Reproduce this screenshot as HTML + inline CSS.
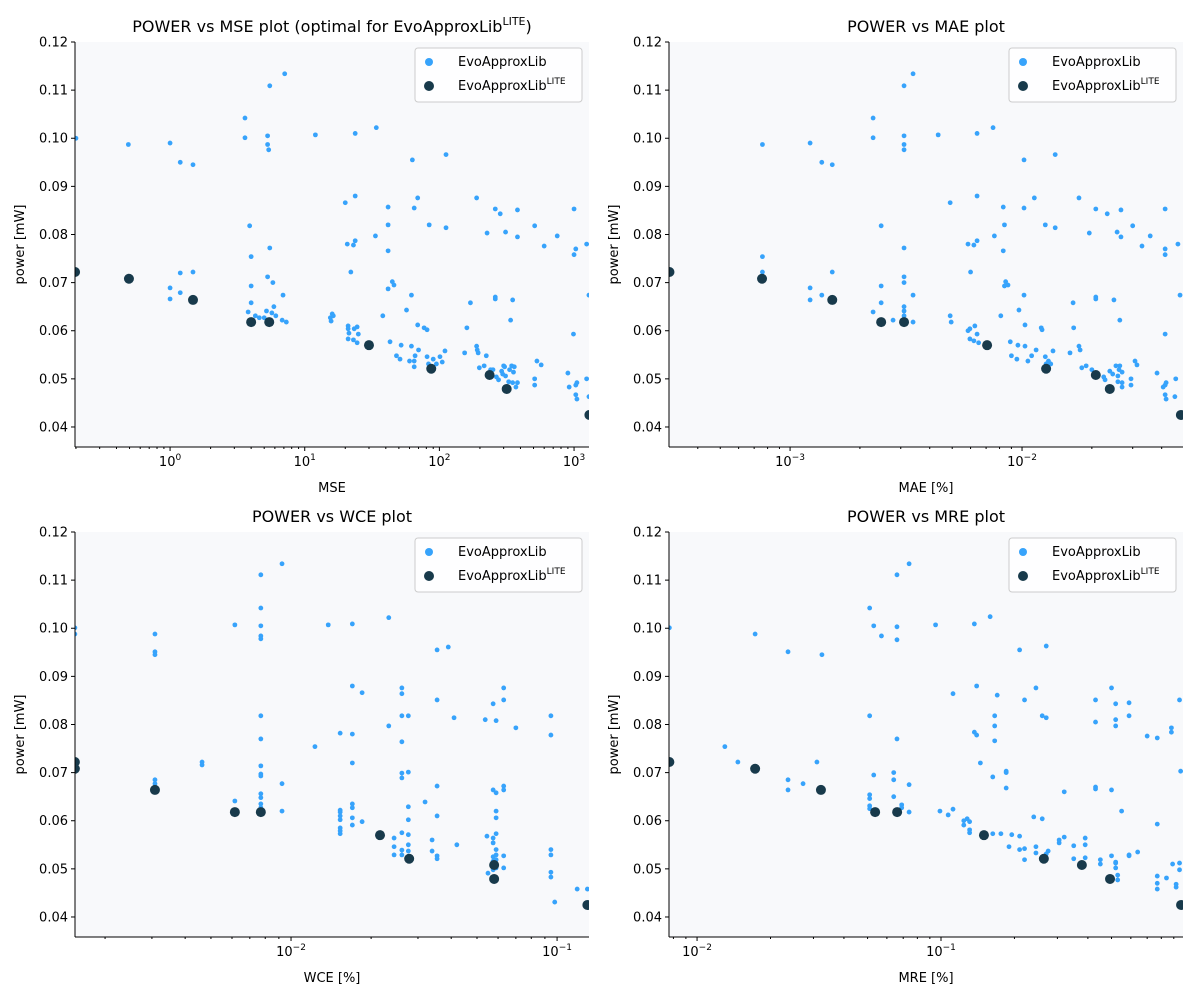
<!DOCTYPE html>
<html><head><meta charset="utf-8"><style>
html,body{margin:0;padding:0;background:#fff}
svg{display:block;font-family:"DejaVu Sans","Liberation Sans",sans-serif}
</style></head><body>
<svg id="fig" width="1200" height="1000" viewBox="0 0 1200 1000" xmlns="http://www.w3.org/2000/svg"></svg>
<script>
// ---------- DATA ----------
const mseLite = [0.197,0.495,1.48,4.0,5.45,30,87,236,316,1300];
const powLite = [0.0722,0.0708,0.0664,0.0618,0.0618,0.0570,0.0521,0.0508,0.0479,0.0425];
const maeLite = [0.000302,0.000757,0.00152,0.00247,0.0031,0.00707,0.0127,0.0208,0.0239,0.0484];
const wceLite = [0.00154,0.00154,0.00308,0.00615,0.0077,0.0216,0.0278,0.058,0.058,0.13];
const wcePowLite = [0.0722,0.0708,0.0664,0.0618,0.0618,0.0570,0.0521,0.0508,0.0479,0.0425];
const mreLite = [0.0077,0.0173,0.0322,0.0537,0.0661,0.15,0.264,0.378,0.493,0.964];

const msePts = [[0.2,0.1],[0.49,0.0987],[1.0,0.099],[1.19,0.095],[1.48,0.0945],[1.0,0.0689],[1.0,0.0666],[1.19,0.0679],[1.19,0.072],[1.48,0.0722],
[3.6,0.1042],[3.6,0.1001],[3.9,0.0818],[4.0,0.0754],[4.0,0.0693],[4.0,0.0658],[3.8,0.0639],[4.3,0.0631],[4.6,0.0627],[5.0,0.0627],
[5.3,0.1005],[5.3,0.0987],[5.4,0.0976],[5.5,0.1109],[5.5,0.0772],[5.3,0.0712],[5.8,0.07],[5.9,0.065],[5.2,0.0641],[5.7,0.0637],[6.1,0.0631],
[7.1,0.1134],[6.9,0.0674],[6.8,0.0622],[7.3,0.0618],[12,0.1007],[15.5,0.0627],[15.7,0.062],[16,0.0635],[16.3,0.0631],
[20,0.0866],[20.7,0.078],[21,0.061],[21,0.0604],[21.3,0.0595],[21,0.0583],[22,0.0722],[23,0.0778],[23.3,0.0604],[23,0.0581],
[23.7,0.101],[23.7,0.088],[23.7,0.0787],[24.5,0.0608],[24.5,0.0575],[25,0.0593],[34,0.1022],[33.5,0.0797],[38,0.0631],
[41.6,0.0857],[41.6,0.082],[41.6,0.0766],[41.6,0.0687],[43,0.0577],[44.7,0.0702],[46,0.0695],[48,0.0548],[51,0.0541],[52,0.057],
[57,0.0643],[60,0.0537],[62,0.0674],[62,0.0568],[63,0.0955],[65,0.0855],[65,0.0537],[65,0.0525],[66,0.0548],[69,0.0876],[70,0.056],
[69,0.0612],[77,0.0606],[81,0.0602],[84,0.082],[81,0.0546],[83,0.0531],[90,0.0541],[95,0.0531],[101,0.0546],[105,0.0535],[110,0.0558],
[112,0.0966],[112,0.0814],[154,0.0554],[160,0.0606],[170,0.0658],[189,0.0876],[189,0.0568],[191,0.056],[194,0.0554],[198,0.0523],
[215,0.0527],[226,0.0803],[223,0.0548],[240,0.0519],[250,0.0519],[260,0.0853],[260,0.067],[260,0.0666],[265,0.0504],[275,0.0498],
[283,0.0843],[290,0.0516],[295,0.051],[300,0.0527],[305,0.0525],[310,0.0805],[310,0.0506],[327,0.0494],[332,0.0519],[338,0.0622],
[344,0.0527],[350,0.0664],[350,0.0492],[355,0.0514],[360,0.0525],[370,0.0483],[380,0.0492],[380,0.0795],[380,0.0851],
[510,0.05],[510,0.0487],[510,0.0818],[530,0.0537],[570,0.0529],[600,0.0776],[750,0.0797],[900,0.0512],[920,0.0483],[990,0.0593],
[1000,0.0853],[1000,0.0758],[1030,0.0467],[1030,0.0487],[1050,0.0492],[1030,0.077],[1050,0.0458],[1240,0.078],[1240,0.05],[1290,0.0674],[1290,0.0463]];

const maePts = [[0.00076,0.0987],[0.00076,0.0754],[0.00076,0.0722],[0.00122,0.099],[0.00122,0.0689],[0.00122,0.0664],[0.00137,0.0674],[0.00137,0.095],
[0.00152,0.0945],[0.00152,0.0722],[0.00228,0.1042],[0.00228,0.1001],[0.00228,0.0639],[0.00247,0.0818],[0.00247,0.0693],[0.00247,0.0658],[0.00278,0.0622],
[0.0031,0.1109],[0.0031,0.1005],[0.0031,0.0987],[0.0031,0.0976],[0.0031,0.0772],[0.0031,0.07],[0.0031,0.0712],[0.0031,0.065],[0.0031,0.0641],[0.0031,0.0631],
[0.00339,0.1134],[0.00339,0.0674],[0.00339,0.0618],[0.00435,0.1007],[0.0049,0.0866],[0.0049,0.0631],[0.00495,0.0618],
[0.00585,0.078],[0.00585,0.06],[0.00596,0.0604],[0.00596,0.0583],[0.006,0.0722],[0.0062,0.0778],[0.0062,0.0579],[0.00626,0.061],
[0.0064,0.101],[0.0064,0.088],[0.0064,0.0787],[0.0064,0.0593],[0.0065,0.0575],[0.0075,0.1022],[0.0076,0.0797],[0.0081,0.0631],
[0.0083,0.0857],[0.0083,0.0766],[0.0084,0.082],[0.0084,0.0693],[0.0085,0.0702],[0.0087,0.0695],[0.0089,0.0577],[0.009,0.0548],
[0.0095,0.0541],[0.0096,0.057],[0.0097,0.0643],[0.0102,0.0955],[0.0102,0.0855],[0.0102,0.0674],[0.0103,0.0568],[0.0103,0.0612],
[0.0106,0.0537],[0.011,0.0548],[0.0113,0.0876],[0.0115,0.056],[0.0121,0.0606],[0.0122,0.0602],[0.0126,0.082],[0.0126,0.0546],[0.0127,0.0531],
[0.013,0.0537],[0.0133,0.0531],[0.0136,0.0558],[0.0139,0.0966],[0.0139,0.0814],[0.0161,0.0554],[0.0166,0.0658],[0.0167,0.0606],
[0.0176,0.0876],[0.0176,0.0568],[0.0178,0.056],[0.0181,0.0523],[0.0189,0.0527],[0.0195,0.0803],[0.02,0.0519],[0.0208,0.0853],[0.0208,0.067],[0.0208,0.0666],
[0.0225,0.0504],[0.0228,0.0498],[0.0233,0.0843],[0.0239,0.0516],[0.0246,0.051],[0.0249,0.0664],[0.0254,0.0527],[0.0257,0.0805],[0.0259,0.0506],[0.0259,0.0494],
[0.0262,0.0519],[0.0264,0.0622],[0.0264,0.0527],[0.0267,0.0851],[0.0267,0.0795],[0.027,0.0483],[0.027,0.0492],[0.027,0.0514],
[0.0295,0.05],[0.0295,0.0487],[0.030,0.0818],[0.0307,0.0537],[0.0313,0.0529],[0.0329,0.0776],[0.0357,0.0797],[0.0382,0.0512],[0.0406,0.0483],
[0.0414,0.0593],[0.0414,0.0853],[0.0414,0.0758],[0.0414,0.077],[0.0414,0.0467],[0.0414,0.0487],[0.0418,0.0492],[0.0418,0.0458],
[0.047,0.078],[0.046,0.05],[0.048,0.0674],[0.0456,0.0463]];

const wcePts = [[0.00154,0.1001],[0.00154,0.0988],[0.00308,0.0988],[0.00308,0.0951],[0.00308,0.0945],[0.00308,0.0685],[0.00308,0.0677],
[0.00463,0.0722],[0.00463,0.0716],[0.00615,0.1007],[0.00615,0.0641],
[0.0077,0.1111],[0.0077,0.1042],[0.0077,0.1005],[0.0077,0.0984],[0.0077,0.0978],[0.0077,0.0818],[0.0077,0.077],[0.0077,0.0714],[0.0077,0.0697],[0.0077,0.0693],[0.0077,0.0656],[0.0077,0.0648],[0.0077,0.0635],[0.0077,0.0627],
[0.00925,0.1134],[0.00925,0.0677],[0.00925,0.062],[0.0123,0.0754],[0.0138,0.1007],
[0.0153,0.0782],[0.0153,0.0622],[0.0153,0.0618],[0.0153,0.061],[0.0153,0.0602],[0.0153,0.0585],[0.0153,0.0579],[0.0153,0.0573],
[0.017,0.1009],[0.017,0.088],[0.017,0.078],[0.017,0.072],[0.017,0.0635],[0.017,0.0627],[0.017,0.0606],[0.017,0.0591],
[0.0185,0.0866],[0.0185,0.0598],[0.0233,0.1022],[0.0233,0.0797],[0.0244,0.0564],[0.0244,0.0546],[0.0244,0.0529],
[0.0261,0.0876],[0.0261,0.0864],[0.0261,0.0818],[0.0261,0.0764],[0.0261,0.0699],[0.0261,0.0689],[0.0261,0.0575],[0.0261,0.0539],[0.0261,0.0529],
[0.0276,0.0818],[0.0276,0.0701],[0.0276,0.0629],[0.0276,0.0602],[0.0276,0.0571],[0.0276,0.055],[0.0276,0.0537],
[0.0319,0.0639],[0.0339,0.056],[0.0339,0.0537],[0.0354,0.0955],[0.0354,0.0851],[0.0354,0.0672],[0.0354,0.061],[0.0354,0.0527],[0.0354,0.0521],
[0.039,0.0961],[0.041,0.0814],[0.042,0.055],[0.0537,0.081],[0.0545,0.0568],[0.055,0.0491],
[0.0575,0.0843],[0.0575,0.0664],[0.0575,0.0564],[0.0575,0.0554],[0.0575,0.0525],[0.0575,0.0516],[0.0575,0.051],[0.0575,0.0498],
[0.059,0.0808],[0.059,0.0658],[0.059,0.062],[0.059,0.0606],[0.059,0.0573],[0.059,0.054],[0.059,0.0529],[0.059,0.0519],[0.059,0.0502],
[0.063,0.0876],[0.063,0.0851],[0.063,0.0672],[0.063,0.0664],[0.063,0.0527],[0.063,0.0502],[0.07,0.0793],
[0.0948,0.0818],[0.0948,0.0778],[0.0948,0.054],[0.0948,0.0529],[0.0948,0.0493],[0.0948,0.0483],[0.098,0.0431],[0.119,0.0458],[0.13,0.0458]];

const mrePts = [[0.0077,0.1001],[0.013,0.0754],[0.0147,0.0722],[0.0173,0.0988],[0.0236,0.0951],[0.0236,0.0685],[0.0236,0.0664],[0.0272,0.0677],[0.031,0.0722],[0.0325,0.0945],
[0.051,0.1042],[0.051,0.0818],[0.051,0.0654],[0.051,0.0646],[0.051,0.0631],[0.051,0.0625],[0.053,0.1005],[0.053,0.0695],[0.057,0.0984],
[0.064,0.07],[0.064,0.0685],[0.064,0.065],[0.066,0.1111],[0.066,0.1003],[0.066,0.0976],[0.066,0.077],[0.069,0.0633],[0.069,0.0627],
[0.074,0.1134],[0.074,0.0618],[0.074,0.0675],[0.095,0.1007],[0.099,0.062],[0.107,0.0612],[0.112,0.0624],[0.112,0.0864],
[0.124,0.0591],[0.124,0.06],[0.128,0.0604],[0.131,0.0598],[0.131,0.0575],[0.131,0.0581],[0.137,0.0784],[0.137,0.1009],[0.14,0.0778],[0.14,0.088],
[0.145,0.072],[0.159,0.1024],[0.163,0.0573],[0.163,0.0691],[0.166,0.0818],[0.166,0.0797],[0.166,0.0766],[0.17,0.0861],[0.176,0.0573],
[0.185,0.07],[0.185,0.0703],[0.185,0.0668],[0.19,0.0546],[0.195,0.0571],[0.21,0.0955],[0.21,0.0568],[0.21,0.054],
[0.22,0.0542],[0.22,0.0519],[0.22,0.0851],[0.24,0.0608],[0.245,0.0546],[0.245,0.0876],[0.245,0.0533],[0.26,0.0818],[0.26,0.0519],[0.26,0.0604],
[0.27,0.0814],[0.27,0.0963],[0.27,0.0531],[0.275,0.0537],[0.305,0.0554],[0.305,0.056],[0.32,0.0566],[0.32,0.066],[0.35,0.0548],[0.35,0.0521],
[0.39,0.0523],[0.39,0.0564],[0.39,0.055],[0.43,0.0805],[0.43,0.0851],[0.43,0.067],[0.43,0.0666],[0.45,0.0519],[0.45,0.051],
[0.5,0.0876],[0.5,0.0527],[0.5,0.0664],[0.52,0.0514],[0.52,0.0502],[0.52,0.0512],[0.52,0.0843],[0.52,0.0797],[0.52,0.081],[0.53,0.0487],[0.53,0.0477],
[0.55,0.062],[0.59,0.0527],[0.59,0.0845],[0.59,0.0818],[0.59,0.0529],[0.64,0.0535],[0.7,0.0776],
[0.77,0.0458],[0.77,0.047],[0.77,0.0485],[0.77,0.0772],[0.77,0.0593],[0.84,0.0481],[0.88,0.0784],[0.88,0.0793],[0.89,0.051],
[0.92,0.0462],[0.92,0.0468],[0.95,0.0512],[0.95,0.0851],[0.95,0.0498],[0.96,0.0703]];

const yTicks = [0.04,0.05,0.06,0.07,0.08,0.09,0.10,0.11,0.12];
const yTickLabels = ["0.04","0.05","0.06","0.07","0.08","0.09","0.10","0.11","0.12"];

// ---------- DRAW ----------
const NS="http://www.w3.org/2000/svg";
const fig=document.getElementById('fig');
function mk(tag,attrs,parent){const e=document.createElementNS(NS,tag);for(const k in attrs)e.setAttribute(k,attrs[k]);(parent||fig).appendChild(e);return e;}
const YMIN=0.03584,YMAX=0.12;
const panels=[
 {id:'mse',L:75,R:589,T:42,B:447,lmin:-0.706,lmax:3.111,decs:[0,1,2,3],title:'POWER vs MSE plot (optimal for EvoApproxLib',sup:true,xlabel:'MSE',pts:msePts,lx:mseLite,ly:powLite},
 {id:'mae',L:669,R:1183,T:42,B:447,lmin:-3.522,lmax:-1.306,decs:[-3,-2],title:'POWER vs MAE plot',xlabel:'MAE [%]',pts:maePts,lx:maeLite,ly:powLite},
 {id:'wce',L:75,R:589,T:532,B:937,lmin:-2.812,lmax:-0.880,decs:[-2,-1],title:'POWER vs WCE plot',xlabel:'WCE [%]',pts:wcePts,lx:wceLite,ly:wcePowLite},
 {id:'mre',L:669,R:1183,T:532,B:937,lmin:-2.115,lmax:-0.008,decs:[-2,-1],title:'POWER vs MRE plot',xlabel:'MRE [%]',pts:mrePts,lx:mreLite,ly:powLite}
];
panels.forEach((p,pi)=>{
  const g=mk('g',{});
  
  
  const xs=v=>p.L+(Math.log10(v)-p.lmin)/(p.lmax-p.lmin)*(p.R-p.L);
  const ys=v=>p.B-(v-YMIN)/(YMAX-YMIN)*(p.B-p.T);
  const bg=mk('rect',{x:p.L,y:p.T,width:p.R-p.L,height:p.B-p.T,fill:'#f8f9fb'},g);
  
  
  mk('clipPath',{id:'c'+pi},g).appendChild(Object.assign(document.createElementNS(NS,'rect'),{}));
  const cr=g.querySelector('#c'+pi+' rect');cr.setAttribute('x',p.L);cr.setAttribute('y',p.T);cr.setAttribute('width',p.R-p.L);cr.setAttribute('height',p.B-p.T);
  const pg=mk('g',{'clip-path':'url(#c'+pi+')'},g);
  p.pts.forEach(d=>{
    const c=mk('circle',{cx:xs(d[0]),cy:ys(d[1]),r:2.4,fill:'#37a3fb'},pg);
    
    
  });
  p.lx.forEach((v,i)=>{
    const c=mk('circle',{cx:xs(v),cy:ys(p.ly[i]),r:5,fill:'#183a4b'},pg);
    
    
  });
  // spines
  mk('line',{x1:p.L,y1:p.T,x2:p.L,y2:p.B,stroke:'#000','stroke-width':1},g);
  mk('line',{x1:p.L,y1:p.B,x2:p.R,y2:p.B,stroke:'#000','stroke-width':1},g);
  // y ticks
  yTicks.forEach((t,i)=>{
    const y=ys(t);
    mk('line',{x1:p.L-4,y1:y,x2:p.L,y2:y,stroke:'#000'},g);
    const tx=mk('text',{x:p.L-7,y:y+4.5,'text-anchor':'end','font-size':13,fill:'#000'},g);
    tx.textContent=yTickLabels[i];
    
    
  });
  // x ticks (log)
  for(let d=Math.floor(p.lmin);d<=Math.ceil(p.lmax);d++){
    for(let m=1;m<10;m++){
      const lv=d+Math.log10(m);
      if(lv<p.lmin||lv>p.lmax)continue;
      const x=p.L+(lv-p.lmin)/(p.lmax-p.lmin)*(p.R-p.L);
      mk('line',{x1:x,y1:p.B,x2:x,y2:p.B+(m==1?4:2),stroke:'#000'},g);
    }
  }
  p.decs.forEach(d=>{
    const x=p.L+(d-p.lmin)/(p.lmax-p.lmin)*(p.R-p.L);
    const tx=mk('text',{x:x,y:p.B+19,'text-anchor':'middle','font-size':13,fill:'#000'},g);
    
    
    tx.appendChild(document.createTextNode('10'));
    const ts=mk('tspan',{dy:-6,'font-size':9},tx);ts.textContent=String(d).replace('-','\u2212');
  });
  const xl=mk('text',{x:(p.L+p.R)/2,y:p.B+45,'text-anchor':'middle','font-size':13},g);
  xl.textContent=p.xlabel;
  
  
  const yl=mk('text',{x:0,y:0,'text-anchor':'middle','font-size':13,transform:`translate(${p.L-51},${(p.T+p.B)/2}) rotate(-90)`},g);
  yl.textContent='power [mW]';
  
  
  const ti=mk('text',{x:(p.L+p.R)/2,y:p.T-10,'text-anchor':'middle','font-size':16},g);
  
  
  ti.appendChild(document.createTextNode(p.title));
  if(p.sup){const s=mk('tspan',{dy:-7,'font-size':11},ti);s.textContent='LITE';const s2=mk('tspan',{dy:7},ti);s2.textContent=')';}
  // legend
  const lg=mk('g',{},g);
  
  
  mk('rect',{x:p.R-174,y:p.T+6,width:167,height:54,rx:3,fill:'#fff','fill-opacity':0.85,stroke:'#ccc'},lg);
  mk('circle',{cx:p.R-160,cy:p.T+20,r:4,fill:'#37a3fb'},lg);
  mk('circle',{cx:p.R-160,cy:p.T+44,r:5,fill:'#183a4b'},lg);
  const e1=mk('text',{x:p.R-131,y:p.T+24,'font-size':13},lg);e1.textContent='EvoApproxLib';
  
  
  const e2=mk('text',{x:p.R-131,y:p.T+48,'font-size':13},lg);
  
  
  e2.appendChild(document.createTextNode('EvoApproxLib'));
  const s3=mk('tspan',{dy:-6,'font-size':9},e2);s3.textContent='LITE';
});
</script>
</body></html>
